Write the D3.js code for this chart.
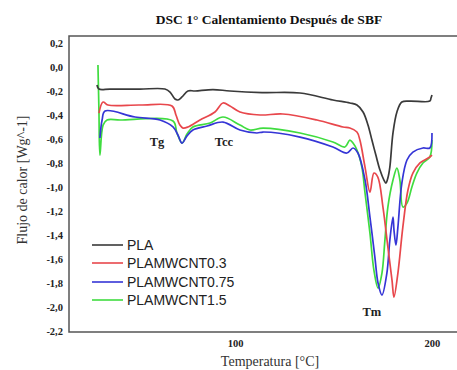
<!DOCTYPE html>
<html>
<head>
<meta charset="utf-8">
<script src="https://cdn.jsdelivr.net/npm/d3@7"></script>
<style>
  body { margin: 0; background: #fff; }
  svg { display: block; }
</style>
</head>
<body>
<div id="chart"></div>
<script>
// temperature [°C] and heat flow [W/g]
const plaT = [29.9, 30.9, 36.5, 51.7, 64.4, 67.0, 69.5, 71.0, 73.1, 76.1, 79.7, 88.8, 97.4, 113.7, 133.0, 149.7, 158.3, 161.9, 165.0, 167.5, 169.5, 171.5, 173.6, 175.6, 176.6, 177.6, 178.6, 180.2, 182.2, 184.7, 188.8, 198.9, 199.5, 200.0];
const plaQ = [-0.15, -0.184, -0.184, -0.184, -0.184, -0.209, -0.267, -0.275, -0.25, -0.2, -0.2, -0.188, -0.2, -0.213, -0.217, -0.275, -0.3, -0.317, -0.375, -0.483, -0.609, -0.734, -0.859, -0.942, -0.967, -0.925, -0.834, -0.55, -0.375, -0.292, -0.284, -0.284, -0.259, -0.234];

const cnt03T = [30.9, 33.0, 35.5, 51.7, 68.0, 70.0, 72.0, 73.6, 76.1, 82.2, 89.8, 93.9, 97.4, 102.5, 112.7, 124.3, 141.6, 154.8, 158.3, 161.9, 163.4, 166.0, 168.5, 170.5, 172.5, 175.1, 177.6, 179.7, 180.7, 182.7, 185.2, 187.8, 190.3, 193.9, 198.9, 200.0];
const cnt03Q = [-0.384, -0.292, -0.317, -0.317, -0.325, -0.4, -0.484, -0.509, -0.5, -0.442, -0.375, -0.3, -0.325, -0.375, -0.4, -0.392, -0.442, -0.5, -0.509, -0.542, -0.609, -0.834, -1.042, -0.884, -0.917, -1.167, -1.5, -1.775, -1.917, -1.717, -1.334, -1.025, -0.884, -0.8, -0.75, -0.734];

const cnt075T = [31.4, 32.5, 34.0, 49.2, 61.9, 68.5, 71.0, 73.1, 75.6, 78.6, 85.8, 93.9, 102.5, 111.1, 114.2, 133.0, 149.7, 156.8, 159.9, 162.4, 166.0, 168.5, 171.0, 172.6, 174.6, 177.1, 178.6, 180.2, 180.7, 181.7, 182.7, 184.7, 187.3, 190.3, 195.4, 198.9, 200.0];
const cnt075Q = [-0.592, -0.442, -0.367, -0.417, -0.442, -0.5, -0.567, -0.634, -0.575, -0.525, -0.492, -0.459, -0.525, -0.55, -0.542, -0.584, -0.667, -0.717, -0.675, -0.717, -0.942, -1.25, -1.584, -1.8, -1.9, -1.717, -1.442, -1.25, -1.359, -1.484, -1.334, -0.967, -0.775, -0.709, -0.675, -0.675, -0.55];

const cnt15T = [30.4, 30.9, 31.4, 33.0, 35.0, 41.6, 68.5, 70.5, 73.1, 75.6, 78.6, 87.3, 93.9, 102.5, 107.6, 114.2, 133.0, 149.7, 155.8, 158.3, 159.9, 161.9, 164.4, 166.0, 168.5, 170.5, 172.6, 174.6, 176.1, 177.6, 180.2, 182.2, 183.7, 185.2, 187.3, 189.8, 192.3, 195.4, 198.9, 200.0];
const cnt15Q = [0.016, -0.359, -0.734, -0.484, -0.442, -0.442, -0.45, -0.55, -0.634, -0.559, -0.5, -0.467, -0.417, -0.484, -0.525, -0.509, -0.55, -0.625, -0.667, -0.609, -0.634, -0.692, -0.834, -1.05, -1.384, -1.692, -1.842, -1.717, -1.442, -1.167, -0.942, -0.842, -0.942, -1.167, -1.134, -1.0, -0.884, -0.8, -0.75, -0.609];

const seriesNames = ['PLA', 'PLAMWCNT0.3', 'PLAMWCNT0.75', 'PLAMWCNT1.5'];
const seriesColors = ['#3a3a3a', '#e8474c', '#3535d6', '#3fdc3f'];
const xTicks = [100, 200];
const yTicks = [0.2, 0.0, -0.2, -0.4, -0.6, -0.8, -1.0, -1.2, -1.4, -1.6, -1.8, -2.0, -2.2];
// transitions marked on the curves: [label, T, Q]
const marks = [['Tg', 60.4, -0.66], ['Tcc', 94.4, -0.66], ['Tm', 169.5, -2.075]];

const width = 457, height = 370;
const m = { left: 69, top: 36, bottom: 332, right: 457 };

const svg = d3.select('#chart').append('svg')
  .attr('width', width)
  .attr('height', height);

const x = d3.scaleLinear().domain([15.7, 212.7]).range([m.left, m.right]);
const y = d3.scaleLinear().domain([-2.208, 0.258]).range([m.bottom, m.top]);

const comma = v => d3.format('.1f')(v).replace('.', ',').replace('−', '-');

// title
svg.append('text')
  .attr('x', 269).attr('y', 24)
  .attr('text-anchor', 'middle')
  .style('font-family', '"Liberation Serif", serif')
  .style('font-weight', 'bold')
  .style('font-size', '13.5px')
  .attr('fill', '#111')
  .text('DSC 1° Calentamiento Después de SBF');

// frame (right side runs past the picture)
svg.append('path')
  .attr('d', `M${m.right},${m.top}H${m.left}V${m.bottom}H${m.right}`)
  .attr('fill', 'none')
  .attr('stroke', '#555')
  .attr('stroke-width', 1.5);

// y tick labels
const yAxis = d3.axisLeft(y).tickValues(yTicks).tickSize(0).tickPadding(6).tickFormat(comma);
const gy = svg.append('g').attr('transform', `translate(${m.left},0)`).call(yAxis);
gy.select('.domain').remove();
gy.selectAll('text')
  .style('font-family', '"Liberation Serif", serif')
  .style('font-weight', 'bold')
  .style('font-size', '10.5px')
  .attr('fill', '#222');

// x tick labels
const xAxis = d3.axisBottom(x).tickValues(xTicks).tickSize(0).tickPadding(8);
const gx = svg.append('g').attr('transform', `translate(0,${m.bottom})`).call(xAxis);
gx.select('.domain').remove();
gx.selectAll('text')
  .style('font-family', '"Liberation Serif", serif')
  .style('font-weight', 'bold')
  .style('font-size', '10.5px')
  .attr('fill', '#222');

// axis titles
svg.append('text')
  .attr('x', 270).attr('y', 366)
  .attr('text-anchor', 'middle')
  .style('font-family', '"Liberation Serif", serif')
  .style('font-size', '14px')
  .attr('fill', '#333')
  .text('Temperatura [°C]');

svg.append('text')
  .attr('transform', 'translate(27,180) rotate(-90)')
  .attr('text-anchor', 'middle')
  .style('font-family', '"Liberation Serif", serif')
  .style('font-size', '14px')
  .attr('fill', '#333')
  .text('Flujo de calor [Wg^-1]');

// curves
const allT = [plaT, cnt03T, cnt075T, cnt15T];
const allQ = [plaQ, cnt03Q, cnt075Q, cnt15Q];
const line = d3.line()
  .x(d => x(d[0]))
  .y(d => y(d[1]))
  .curve(d3.curveCatmullRom.alpha(0.5));

// draw black on top like the reference: green, blue, red, black
[3, 2, 1, 0].forEach(i => {
  const pts = allT[i].map((t, j) => [t, allQ[i][j]]);
  svg.append('path')
    .datum(pts)
    .attr('d', line)
    .attr('fill', 'none')
    .attr('stroke', seriesColors[i])
    .attr('stroke-width', 1.7)
    .attr('stroke-linejoin', 'round');
});

// transition labels
svg.selectAll('.mark')
  .data(marks)
  .enter()
  .append('text')
  .attr('x', d => x(d[1]))
  .attr('y', d => y(d[2]))
  .attr('text-anchor', 'middle')
  .style('font-family', '"Liberation Serif", serif')
  .style('font-weight', 'bold')
  .style('font-size', '12.5px')
  .attr('fill', '#222')
  .text(d => d[0]);

// legend
const legendY = [245, 263, 282, 300];
const legend = svg.selectAll('.legend')
  .data(seriesNames)
  .enter()
  .append('g')
  .attr('transform', (d, i) => `translate(92,${legendY[i]})`);

legend.append('line')
  .attr('x1', 0).attr('x2', 31)
  .attr('stroke', (d, i) => seriesColors[i])
  .attr('stroke-width', 1.6);

legend.append('text')
  .attr('x', 35).attr('dy', '0.35em')
  .style('font-family', '"Liberation Sans", Arial, sans-serif')
  .style('font-size', '14px')
  .attr('fill', '#222')
  .text(d => d);
</script>
</body>
</html>
